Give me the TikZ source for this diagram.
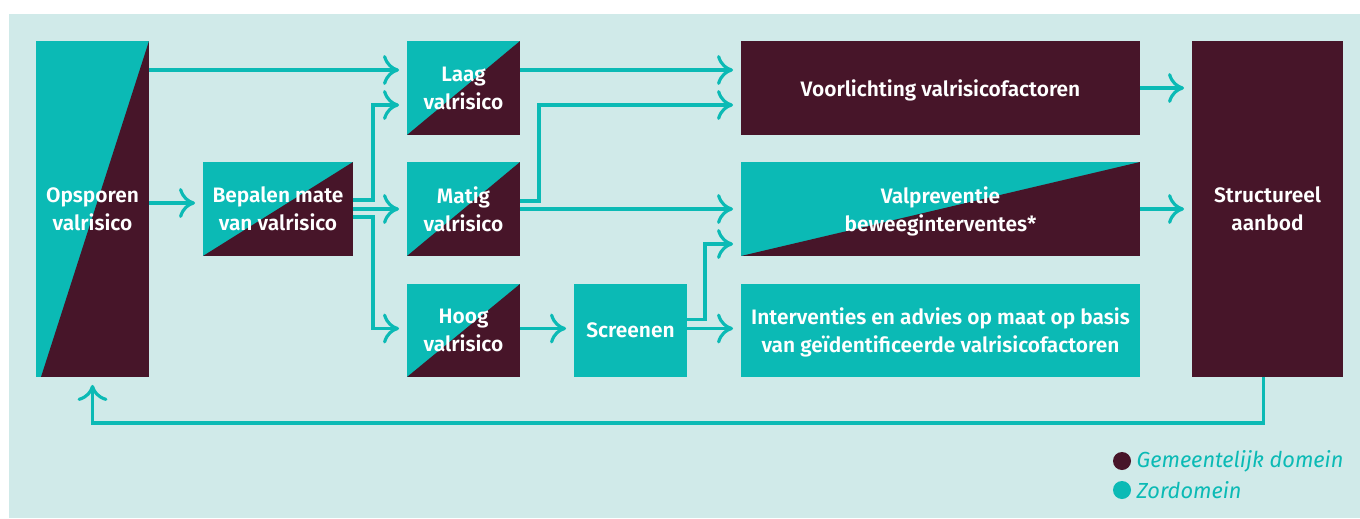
\documentclass[tikz,border=0pt]{standalone}
\usepackage{fontspec}
\setmainfont{Fira Sans}[BoldFont={Fira Sans SemiBold}]
\usepackage{tikz}
\usetikzlibrary{calc,positioning,arrows.meta}
\definecolor{zorg}{RGB}{11,186,181}
\definecolor{gemeente}{RGB}{71,21,41}
\definecolor{achter}{RGB}{208,234,233}
\tikzset{
	blok/.style={rectangle,inner sep=0pt,outer sep=0pt,text=white,font=\bfseries\fontsize{11.9}{16}\selectfont,align=center,text depth=0pt},
	diag/.style={blok,path picture={
		\fill[zorg] (path picture bounding box.south west) rectangle (path picture bounding box.north east);
		\fill[gemeente] (path picture bounding box.north east) -- (path picture bounding box.south east) -- ([xshift=#1]path picture bounding box.south west) -- cycle;}},
	diag/.default=0pt,
	flow/.style={draw=zorg,line width=1.8pt,shorten >=0.16cm,-{Computer Modern Rightarrow[length=0.32cm,width=0.6cm]}},
	bol/.style={circle,inner sep=0pt,minimum size=0.36cm},
	uitleg/.style={text=zorg,font=\itshape\fontsize{12.4}{14}\selectfont,inner sep=0pt}
}
\begin{document}
\begin{tikzpicture}[x=0.02cm,y=-0.02cm]
				\useasboundingbox (0,0) rectangle (1360,518);
				\fill[achter] (9,14) rectangle (1360,518);
				%BLOKKEN
				\node[diag=0.1cm,minimum width=2.26cm,minimum height=6.72cm] (opsporen) at (92.5,209) {Opsporen\\valrisico};
				\node[diag,minimum width=3cm,minimum height=1.88cm] (bepalen) at (278,209) {Bepalen mate\\van valrisico};
				\node[diag,minimum width=2.26cm,minimum height=1.88cm] (laag) at (463.5,88) {Laag\\valrisico};
				\node[diag,minimum width=2.26cm,minimum height=1.88cm] (matig) at (463.5,209) {Matig\\valrisico};
				\node[diag,minimum width=2.26cm,minimum height=1.86cm] (hoog) at (463.5,330.5) {Hoog\\valrisico};
				\node[blok,fill=zorg,minimum width=2.26cm,minimum height=1.86cm] (screenen) at (630.5,330.5) {Screenen};
				\node[blok,fill=gemeente,minimum width=7.98cm,minimum height=1.88cm] (voorlichting) at (940.5,88) {Voorlichting valrisicofactoren};
				\node[diag,minimum width=7.98cm,minimum height=1.88cm] (valpreventie) at (940.5,209) {Valpreventie\\beweeginterventes*};
				\node[blok,fill=zorg,minimum width=7.98cm,minimum height=1.86cm] (interventies) at (940.5,330.5) {Interventies en advies op maat op basis\\van ge\"identificeerde valrisicofactoren};
				\node[blok,fill=gemeente,minimum width=3.02cm,minimum height=6.72cm] (structureel) at (1267.5,209) {Structureel\\aanbod};
				%PIJLEN
				\draw[flow] ($(opsporen.east)+(0,-139)$) -- ($(laag.west)+(0,-18)$);
				\draw[flow] ($(opsporen.east)+(0,-6)$) -- ($(bepalen.west)+(0,-6)$);
				\draw[flow] ($(bepalen.east)+(0,-9)$) -- ++(20,0) |- ($(laag.west)+(0,17)$);
				\draw[flow] (bepalen.east) -- (matig.west);
				\draw[flow] ($(bepalen.east)+(0,8)$) -- ++(20,0) |- ($(hoog.west)+(0,-2)$);
				\draw[flow] ($(laag.east)+(0,-18)$) -- ($(voorlichting.west)+(0,-18)$);
				\draw[flow] ($(matig.east)+(0,-8)$) -- ++(19,0) |- ($(voorlichting.west)+(0,17)$);
				\draw[flow] (matig.east) -- (valpreventie.west);
				\draw[flow] ($(hoog.east)+(0,-2)$) -- ($(screenen.west)+(0,-2)$);
				\draw[flow] ($(screenen.east)+(0,-11)$) -- ++(18,0) |- ($(valpreventie.west)+(0,35)$);
				\draw[flow] ($(screenen.east)+(0,-2)$) -- ($(interventies.west)+(0,-2)$);
				\draw[flow] (voorlichting.east) -- (voorlichting.east -| structureel.west);
				\draw[flow] (valpreventie.east) -- (valpreventie.east -| structureel.west);
				\draw[flow] ($(structureel.south)+(-4,0)$) -- ++(0,46) -| (opsporen.south);
				%LEGENDA
				\node[bol,fill=gemeente] (gemdot) at (1122,461) {};
				\node[bol,fill=zorg] (zordot) at (1122,490) {};
				\node[uitleg,right=0.1cm of gemdot] (gemtekst) {Gemeentelijk domein};
				\node[uitleg,right=0.1cm of zordot] (zortekst) {Zordomein};
\end{tikzpicture}
\end{document}
